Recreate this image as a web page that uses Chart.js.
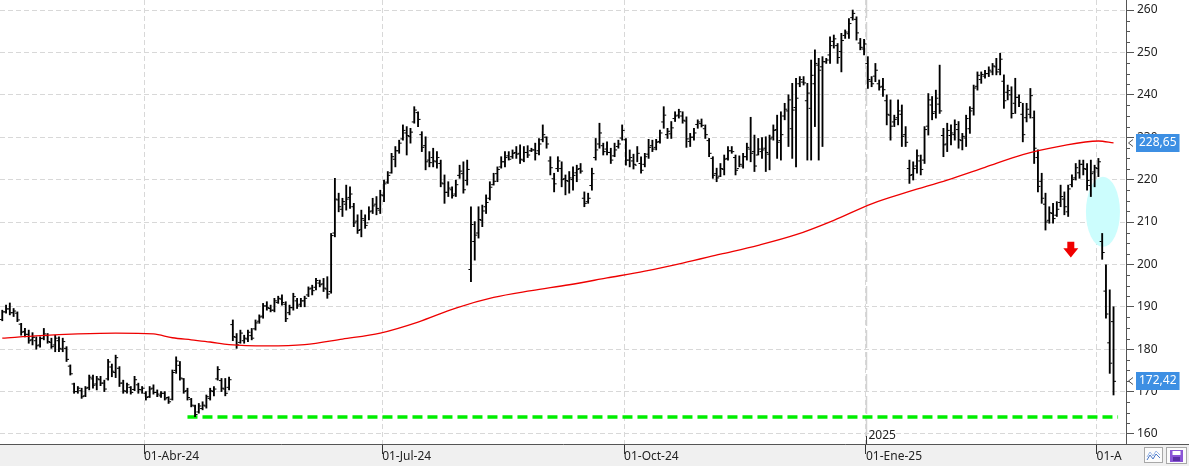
<!DOCTYPE html>
<html>
<head>
<meta charset="utf-8">
<script src="https://cdn.jsdelivr.net/npm/chart.js@4.4.1/dist/chart.umd.min.js"></script>
<style>
  body { margin: 0; background: #ffffff; }
  canvas { display: block; }
</style>
</head>
<body>
<canvas id="grafico" width="1189" height="466"></canvas>
<script>
// Barras diarias (OHLC), indice 0 = primeira barra a esquerda
const highs = [
  189.2,190.4,190.9,189.6,188.8,186.1,184.9,184.5,183.9,182.9,
  182.9,184.9,183.7,182.6,183.3,182.9,182.6,180.6,176.3,172.0,
  171.2,170.8,171.2,173.9,173.9,173.6,173.6,172.7,177.6,176.5,
  178.6,175.9,172.7,172.0,171.2,173.6,172.0,171.2,170.0,171.2,
  171.6,170.4,170.0,170.0,168.8,175.1,178.2,177.1,173.1,170.8,
  168.4,166.8,167.2,167.6,169.2,170.8,171.2,175.9,173.1,173.1,
  173.4,186.9,183.7,184.5,183.3,184.5,184.9,186.9,188.1,190.8,
  191.2,190.4,192.0,192.5,192.8,191.2,190.4,193.2,192.0,192.0,
  192.5,194.7,195.1,196.7,196.3,196.7,197.1,207.3,220.3,216.8,
  215.6,218.7,218.3,214.4,211.7,212.8,211.7,213.6,215.6,216.0,
  217.5,219.9,221.9,226.2,227.8,229.3,232.9,232.5,232.1,237.2,
  236.0,231.3,230.1,226.6,227.4,226.6,224.6,221.1,219.5,218.3,
  219.9,223.4,224.2,224.6,213.6,210.1,213.6,214.0,216.4,219.5,
  221.5,223.0,225.4,226.6,226.6,227.0,227.8,228.2,227.8,228.0,
  227.4,228.6,229.7,232.9,230.1,225.4,221.5,225.4,224.2,221.1,
  221.9,223.0,223.4,223.8,217.1,216.8,222.7,229.7,233.3,228.6,
  228.9,227.4,228.6,229.3,232.9,229.7,227.0,226.0,227.8,225.4,
  226.2,229.5,229.3,229.5,231.7,237.2,232.1,233.7,236.0,236.6,
  236.0,234.8,230.9,232.1,234.1,234.3,232.9,229.7,225.4,222.7,
  223.8,225.8,227.8,227.8,225.8,225.6,226.2,228.6,234.7,230.5,
  229.7,229.9,230.1,230.5,232.9,235.2,236.0,238.0,240.0,242.7,
  243.9,244.3,244.3,242.7,248.2,250.6,248.6,249.0,248.6,253.7,
  254.1,252.1,254.5,255.3,258.0,260.0,258.4,253.3,253.1,249.0,
  244.3,247.4,243.5,243.9,240.0,238.8,235.2,238.8,237.6,232.5,
  224.6,224.2,227.0,225.8,232.5,240.3,239.6,241.1,247.0,232.1,
  233.3,232.9,234.1,233.7,230.9,235.2,237.2,242.3,245.4,245.4,
  245.8,246.6,247.4,248.6,249.8,244.7,242.3,241.9,243.9,240.0,
  238.0,238.0,241.5,236.2,227.0,221.5,216.8,213.6,214.4,214.8,
  218.7,217.1,218.7,221.1,223.8,224.6,224.6,223.8,224.6,223.4,
  225.0,207.3,199.9,194.0,190.0
];
const lows = [
  186.7,188.5,188.1,187.7,186.5,183.3,182.9,181.4,181.0,180.0,
  180.5,182.2,181.4,180.2,179.4,179.4,179.4,177.1,173.9,169.6,
  169.6,168.4,168.8,170.4,170.8,170.4,171.4,170.0,172.7,173.5,
  173.3,171.2,169.6,169.6,169.4,170.2,169.6,169.6,168.0,168.6,
  169.4,168.8,168.6,168.0,167.2,168.0,174.3,172.7,169.6,168.0,
  166.4,164.1,164.9,165.7,166.1,168.0,169.0,172.7,170.0,169.0,
  170.4,182.0,180.2,181.4,181.4,181.8,182.2,184.5,186.1,187.3,
  189.2,188.8,188.8,190.8,190.4,186.5,188.1,189.2,189.6,190.0,
  190.0,192.4,192.8,194.0,194.7,193.6,192.0,193.2,206.5,212.4,
  211.3,212.8,213.2,208.9,207.3,206.5,208.5,210.5,212.0,211.7,
  212.0,214.8,219.1,221.5,223.0,226.2,229.3,225.8,228.6,233.3,
  232.5,226.6,222.3,223.0,223.0,222.7,218.3,214.4,216.0,215.6,
  216.0,220.3,216.8,218.7,195.9,201.0,206.2,208.9,212.0,215.2,
  218.7,219.5,222.7,223.0,224.6,225.0,225.0,223.8,224.2,225.2,
  226.6,224.6,225.8,228.9,227.4,221.1,217.1,221.9,218.3,216.4,
  216.8,217.5,219.5,221.5,213.6,214.4,217.5,224.6,227.4,225.8,
  225.8,223.8,225.4,227.4,229.3,223.4,223.0,222.5,224.2,221.5,
  223.0,225.0,226.6,227.0,228.6,232.1,229.7,229.7,233.7,234.5,
  233.3,227.6,227.8,229.3,232.1,232.4,229.7,225.4,220.3,219.5,
  220.7,221.1,224.6,226.2,221.1,223.0,222.7,224.6,224.2,221.9,
  225.8,225.0,221.9,222.3,229.3,225.0,224.6,234.1,227.8,225.0,
  223.0,241.9,242.3,224.6,224.6,232.5,224.6,227.8,247.4,247.4,
  251.0,247.4,245.4,253.3,253.3,257.6,252.9,250.6,249.4,241.5,
  241.9,243.1,241.1,239.6,232.9,229.3,232.5,232.9,227.8,227.8,
  219.1,219.9,221.5,221.1,223.8,230.5,234.1,234.5,235.6,225.4,
  226.6,228.2,229.3,227.4,227.0,227.8,230.9,235.2,241.1,242.7,
  243.9,244.3,244.7,244.7,244.7,236.8,238.8,234.5,235.6,237.2,
  228.9,233.6,234.5,223.8,217.1,214.4,208.1,209.7,209.7,211.3,
  213.6,211.7,211.3,218.3,219.9,220.3,221.1,217.5,216.0,218.3,
  220.7,201.2,187.3,174.3,169.2
];
const opens = [
  187.0,188.8,189.5,188.6,188.5,185.9,184.2,183.5,182.2,182.0,
  181.0,182.6,183.2,181.6,181.0,182.0,180.0,180.2,176.0,171.8,
  170.0,170.2,169.0,171.0,173.0,171.8,172.8,172.0,173.0,175.8,
  174.5,175.5,172.0,170.0,171.0,170.5,171.6,170.4,169.6,168.8,
  170.8,169.8,169.0,169.6,168.6,168.2,175.0,176.2,173.0,170.2,
  168.2,166.6,165.2,166.0,166.6,168.4,170.0,173.0,172.6,170.6,
  171.0,185.8,182.8,181.6,182.0,182.4,183.2,184.8,186.6,187.8,
  190.2,189.6,189.2,191.0,191.8,190.6,188.6,189.8,191.4,190.6,
  191.4,192.8,194.4,194.6,195.6,195.4,194.2,193.6,207.4,215.2,
  213.0,214.2,215.8,213.6,210.2,208.2,210.4,209.8,212.6,214.2,
  212.8,216.2,219.4,221.6,224.8,226.8,229.6,231.0,230.2,233.6,
  235.8,230.6,228.0,224.6,225.2,224.2,223.8,219.0,217.0,217.6,
  216.6,221.0,221.4,219.8,198.8,205.4,207.4,210.4,213.6,215.6,
  218.8,221.4,223.0,224.2,225.6,225.4,226.4,226.2,224.6,226.4,
  226.8,227.0,226.8,229.4,230.0,224.4,220.2,222.6,222.6,220.2,
  219.6,220.0,221.6,222.6,215.6,214.8,218.6,225.2,228.4,228.0,
  227.2,226.4,225.6,227.8,229.8,229.4,224.6,224.4,223.4,223.8,
  223.6,226.0,228.0,227.6,229.0,233.6,230.6,230.8,234.4,235.2,
  235.0,233.8,229.0,230.0,233.0,233.2,232.0,229.2,225.0,221.4,
  220.8,222.4,225.0,226.8,225.2,222.6,223.2,225.4,227.2,226.6,
  225.8,226.6,227.4,226.0,230.0,231.8,229.2,235.0,236.2,232.0,
  237.0,242.6,243.0,238.6,236.8,242.6,247.0,246.6,247.8,249.4,
  252.6,251.6,250.2,254.0,254.4,258.2,257.8,252.2,250.8,247.4,
  243.2,244.4,242.6,242.0,238.6,235.2,233.6,234.6,235.4,230.6,
  222.6,221.2,223.2,224.4,224.6,232.6,237.6,236.0,237.8,230.4,
  228.4,230.4,230.6,231.8,229.2,229.8,232.0,236.8,242.0,243.6,
  244.4,245.0,245.4,246.6,246.0,243.2,240.6,240.0,238.0,239.4,
  235.4,234.6,235.4,234.6,225.2,219.6,214.2,210.4,212.0,211.6,
  214.6,215.4,212.4,218.8,220.4,221.6,223.6,222.4,218.6,221.8,
  222.6,205.4,193.7,181.5,186.5
];
const closes = [
  188.8,189.5,188.6,189.0,186.9,184.0,183.5,182.0,182.8,180.8,
  182.5,183.6,181.8,180.6,182.6,180.2,181.8,177.6,174.2,170.0,
  170.8,168.8,170.8,173.4,171.5,173.0,172.0,170.6,177.0,174.8,
  178.0,172.0,170.2,171.6,169.8,172.8,170.5,170.8,168.6,170.6,
  169.8,169.4,169.6,168.3,167.6,174.5,177.2,173.2,170.0,168.6,
  166.8,164.6,166.6,166.8,168.8,170.2,170.6,175.2,170.8,169.6,
  172.8,183.0,181.0,183.8,182.6,184.0,182.6,186.2,187.6,190.2,
  189.8,189.2,191.4,192.0,191.0,187.2,189.8,192.4,190.2,191.4,
  192.0,194.2,193.8,196.2,195.2,194.4,193.0,206.8,215.4,213.6,
  214.8,215.4,216.6,209.8,208.0,210.8,209.2,212.4,213.8,213.2,
  216.4,219.0,221.0,225.4,226.8,228.6,231.6,230.4,231.2,236.4,
  234.2,227.6,224.2,224.0,224.4,225.2,219.2,217.0,218.0,216.2,
  218.8,222.0,217.6,222.4,209.4,206.9,210.6,212.6,214.6,218.2,
  219.6,222.4,224.2,225.2,224.8,226.2,226.0,224.8,226.4,225.8,
  227.0,226.2,228.4,230.6,228.4,222.8,219.0,224.4,220.0,219.8,
  220.4,221.0,222.4,222.0,214.4,215.6,221.4,227.0,231.0,226.6,
  226.4,224.6,227.0,228.4,231.6,224.6,225.2,223.6,226.2,222.2,
  225.4,227.6,227.2,228.8,231.0,235.2,231.4,232.2,235.0,236.0,
  234.0,229.6,230.0,231.0,233.6,232.8,230.6,226.2,221.0,220.4,
  222.6,224.8,226.8,226.6,222.2,223.6,225.4,227.6,226.2,223.2,
  227.2,227.0,226.4,229.6,231.6,228.8,230.6,236.6,238.8,236.4,
  239.2,243.6,242.8,240.4,244.6,247.4,245.8,247.8,248.2,251.6,
  253.2,248.8,252.8,254.8,256.8,259.2,254.6,251.2,252.0,243.6,
  242.6,245.8,241.8,241.2,235.4,232.6,234.2,236.2,230.2,228.8,
  221.0,222.6,225.6,222.4,231.8,238.8,235.6,239.2,236.2,228.2,
  231.6,231.0,233.0,229.4,230.2,234.4,236.2,241.6,244.6,244.8,
  245.0,245.8,246.8,245.4,248.4,238.6,241.0,235.6,239.4,238.2,
  230.6,236.6,239.8,227.4,218.4,215.6,210.0,212.2,210.8,213.0,
  216.0,213.6,217.8,220.0,222.8,223.6,222.6,219.8,221.4,222.8,
  224.2,202.8,188.3,176.7,172.42
];

// Media movel (vermelha): leituras em alguns indices
const mmIndices = [0, 10, 20, 30, 40, 45, 50, 55, 60, 70, 80, 90, 100, 110, 120, 130, 140, 150,
  160, 170, 180, 190, 200, 210, 220, 230, 240, 250, 260, 270, 280, 290, 294];
const mmValores = [182.6, 183.2, 183.6, 183.8, 183.6, 182.7, 182.2, 181.7, 181.1, 180.8, 181.1, 182.4,
  183.8, 186.4, 189.7, 192.2, 193.8, 195.2, 196.8, 198.4, 200.3, 202.4, 204.5, 207.0, 210.4,
  214.3, 217.2, 219.9, 222.9, 225.9, 227.9, 229.1, 228.65];

// Suporte (linha verde tracejada)
const suporteNivel = 164.0;
const suporteInicio = 49;
const suporteFim = 295.2;

// Eixos
const xTickPos = [37.5, 100.5, 164.5, 228.5, 289.5];
const xTickLabels = ['01-Abr-24', '01-Jul-24', '01-Oct-24', '01-Ene-25', '01-A'];
const yTicks = [160, 170, 180, 190, 200, 210, 220, 230, 240, 250, 260];
const anoIndice = 228.5;
const anoTexto = '2025';

// Etiquetas de preco no eixo direito
const etiquetas = [228.65, 172.42];

// Elipse (ciano) e seta (vermelha)
const elipse = { x: 291.2, y: 212.4, rx: 4.5, ry: 8.25 };
const seta = { x: 282.7, topo: 205.35, ponta: 201.65 };

const fonte = { family: "'Noto Sans', sans-serif", size: 12 };

function formatar(v) {
  return v.toFixed(2).replace('.', ',');
}

const desenhos = {
  id: 'desenhos',
  beforeDraw(chart) {
    const { ctx, width, height, chartArea } = chart;
    ctx.save();
    ctx.fillStyle = '#ffffff';
    ctx.fillRect(0, 0, width, height);
    ctx.fillStyle = '#f0f0f0';
    ctx.fillRect(0, chartArea.bottom, width, height - chartArea.bottom);
    ctx.restore();
  },
  beforeDatasetsDraw(chart) {
    const { ctx, chartArea, scales } = chart;
    const x = scales.x, y = scales.y;
    ctx.save();
    // linha do ano
    const xa = Math.round(x.getPixelForValue(anoIndice)) + 0.5;
    ctx.strokeStyle = '#d2d2d2';
    ctx.lineWidth = 1.5;
    ctx.setLineDash([18, 4]);
    ctx.beginPath();
    ctx.moveTo(xa, chartArea.top);
    ctx.lineTo(xa, chartArea.bottom);
    ctx.stroke();
    ctx.setLineDash([]);
    // elipse
    const cx = x.getPixelForValue(elipse.x);
    const cy = y.getPixelForValue(elipse.y);
    const rx = Math.abs(x.getPixelForValue(elipse.x + elipse.rx) - cx);
    const ry = Math.abs(y.getPixelForValue(elipse.y + elipse.ry) - cy);
    ctx.fillStyle = '#ccfdfd';
    ctx.beginPath();
    ctx.ellipse(cx, cy, rx, ry, 0, 0, Math.PI * 2);
    ctx.fill();
    ctx.restore();
  },
  afterDatasetsDraw(chart) {
    const { ctx, scales } = chart;
    const x = scales.x, y = scales.y;
    const sx = x.getPixelForValue(seta.x);
    const st = y.getPixelForValue(seta.topo);
    const sp = y.getPixelForValue(seta.ponta);
    const meio = st + (sp - st) * 0.42;
    ctx.save();
    ctx.fillStyle = '#f00000';
    ctx.beginPath();
    ctx.moveTo(sx - 3.5, st);
    ctx.lineTo(sx + 3.5, st);
    ctx.lineTo(sx + 3.5, meio);
    ctx.lineTo(sx + 7.5, meio);
    ctx.lineTo(sx, sp);
    ctx.lineTo(sx - 7.5, meio);
    ctx.lineTo(sx - 3.5, meio);
    ctx.closePath();
    ctx.fill();
    ctx.restore();
  },
  afterDraw(chart) {
    const { ctx, width, chartArea, scales } = chart;
    const x = scales.x, y = scales.y;
    ctx.save();
    // linha do eixo x ate a borda
    ctx.strokeStyle = '#555555';
    ctx.lineWidth = 1;
    ctx.beginPath();
    ctx.moveTo(chartArea.right, chartArea.bottom + 0.5);
    ctx.lineTo(width, chartArea.bottom + 0.5);
    ctx.stroke();
    // marcas menores do eixo y
    ctx.strokeStyle = '#555555';
    for (let v = 162.5; v < 260; v += 2.5) {
      if (v % 10 === 0) continue;
      const py = Math.round(y.getPixelForValue(v)) + 0.5;
      ctx.beginPath();
      ctx.moveTo(chartArea.right, py);
      ctx.lineTo(chartArea.right + 4, py);
      ctx.stroke();
    }
    // ano
    const xa = Math.round(x.getPixelForValue(anoIndice)) + 0.5;
    ctx.strokeStyle = '#333333';
    ctx.beginPath();
    ctx.moveTo(xa, chartArea.bottom - 8);
    ctx.lineTo(xa, chartArea.bottom);
    ctx.stroke();
    ctx.fillStyle = '#222222';
    ctx.font = "12px 'Noto Sans', sans-serif";
    ctx.textBaseline = 'middle';
    ctx.textAlign = 'left';
    ctx.fillText(anoTexto, xa + 2, chartArea.bottom - 8);
    // etiquetas de preco
    etiquetas.forEach(v => {
      const py = Math.round(y.getPixelForValue(v));
      const txt = formatar(v);
      const w = ctx.measureText(txt).width + 6;
      ctx.fillStyle = '#3d8fe3';
      ctx.fillRect(chartArea.right + 10, py - 9, w, 18);
      ctx.fillStyle = '#ffffff';
      ctx.fillText(txt, chartArea.right + 13, py);
      ctx.strokeStyle = '#555555';
      ctx.beginPath();
      ctx.moveTo(chartArea.right + 7, py - 3.5);
      ctx.lineTo(chartArea.right + 2.5, py);
      ctx.lineTo(chartArea.right + 7, py + 3.5);
      ctx.stroke();
    });
    // icones
    ctx.fillStyle = '#fbfbfb';
    ctx.strokeStyle = '#a8a8a8';
    ctx.fillRect(1144.5, 447.5, 18, 15);
    ctx.strokeRect(1144.5, 447.5, 18, 15);
    ctx.fillRect(1166.5, 447.5, 20, 16);
    ctx.strokeRect(1166.5, 447.5, 20, 16);
    ctx.strokeStyle = '#9ab8e8';
    ctx.beginPath();
    ctx.moveTo(1147, 457); ctx.lineTo(1150, 452); ctx.lineTo(1153, 456); ctx.lineTo(1156, 451); ctx.lineTo(1160, 455);
    ctx.stroke();
    ctx.strokeStyle = '#4a78c8';
    ctx.beginPath();
    ctx.moveTo(1147, 460); ctx.lineTo(1150, 455); ctx.lineTo(1153, 459); ctx.lineTo(1156, 454); ctx.lineTo(1160, 458);
    ctx.stroke();
    ctx.fillStyle = '#8b55d6';
    ctx.fillRect(1170, 450, 13, 12);
    ctx.fillStyle = '#ffffff';
    ctx.fillRect(1172.5, 451, 8, 4);
    ctx.fillStyle = '#5b2fa6';
    ctx.fillRect(1173, 457, 7, 4);
    ctx.restore();
  }
};

const ctx = document.getElementById('grafico').getContext('2d');
new Chart(ctx, {
  type: 'bar',
  data: {
    datasets: [
      {
        type: 'line',
        label: 'Media',
        data: mmIndices.map((v, k) => ({ x: v, y: mmValores[k] })),
        borderColor: '#ee0000',
        borderWidth: 1.3,
        pointRadius: 0,
        cubicInterpolationMode: 'monotone',
        order: 0
      },
      {
        type: 'bar',
        label: 'Rango',
        data: highs.map((h, i) => ({ x: i, y: [lows[i], h] })),
        backgroundColor: '#000000',
        barThickness: 1.2,
        grouped: false,
        order: 1
      },
      {
        type: 'scatter',
        label: 'Apertura',
        data: opens.map((o, i) => ({ x: i - 0.4, y: o })),
        pointStyle: 'line',
        pointRadius: 1,
        pointBorderColor: '#000000',
        pointBorderWidth: 1,
        order: 1
      },
      {
        type: 'scatter',
        label: 'Cierre',
        data: closes.map((c, i) => ({ x: i + 0.4, y: c })),
        pointStyle: 'line',
        pointRadius: 1,
        pointBorderColor: '#000000',
        pointBorderWidth: 1,
        order: 1
      },
      {
        type: 'line',
        label: 'Soporte',
        data: [{ x: suporteInicio, y: suporteNivel }, { x: suporteFim, y: suporteNivel }],
        borderColor: '#00ee00',
        borderWidth: 3.5,
        borderDash: [10, 5],
        pointRadius: 0,
        order: 2
      }
    ]
  },
  options: {
    responsive: false,
    devicePixelRatio: 1,
    animation: false,
    layout: { padding: 0, autoPadding: false },
    plugins: {
      legend: { display: false },
      tooltip: { enabled: false }
    },
    scales: {
      x: {
        type: 'linear',
        offset: false,
        min: -0.6,
        max: 297.3,
        afterBuildTicks: s => { s.ticks = xTickPos.map(v => ({ value: v })); },
        afterFit: s => { s.height = 22; s.paddingLeft = 0; s.paddingRight = 0; },
        ticks: {
          callback: (v, i) => xTickLabels[i],
          align: 'start',
          padding: -5,
          maxRotation: 0,
          autoSkip: false,
          color: '#222222',
          font: fonte
        },
        grid: { offset: false, color: '#d8d8d8', tickColor: '#333333', tickLength: 10 },
        border: { color: '#555555', dash: [5, 3] }
      },
      y: {
        position: 'right',
        min: 157.64,
        max: 262.36,
        afterBuildTicks: s => { s.ticks = yTicks.map(v => ({ value: v })); },
        afterFit: s => { s.width = 63; s.paddingTop = 0; s.paddingBottom = 0; },
        ticks: {
          callback: v => String(v),
          padding: 3,
          color: '#222222',
          font: fonte
        },
        grid: { color: '#d8d8d8', tickColor: '#555555', tickLength: 8 },
        border: { color: '#555555', dash: [5, 3] }
      }
    }
  },
  plugins: [desenhos]
});
</script>
</body>
</html>
